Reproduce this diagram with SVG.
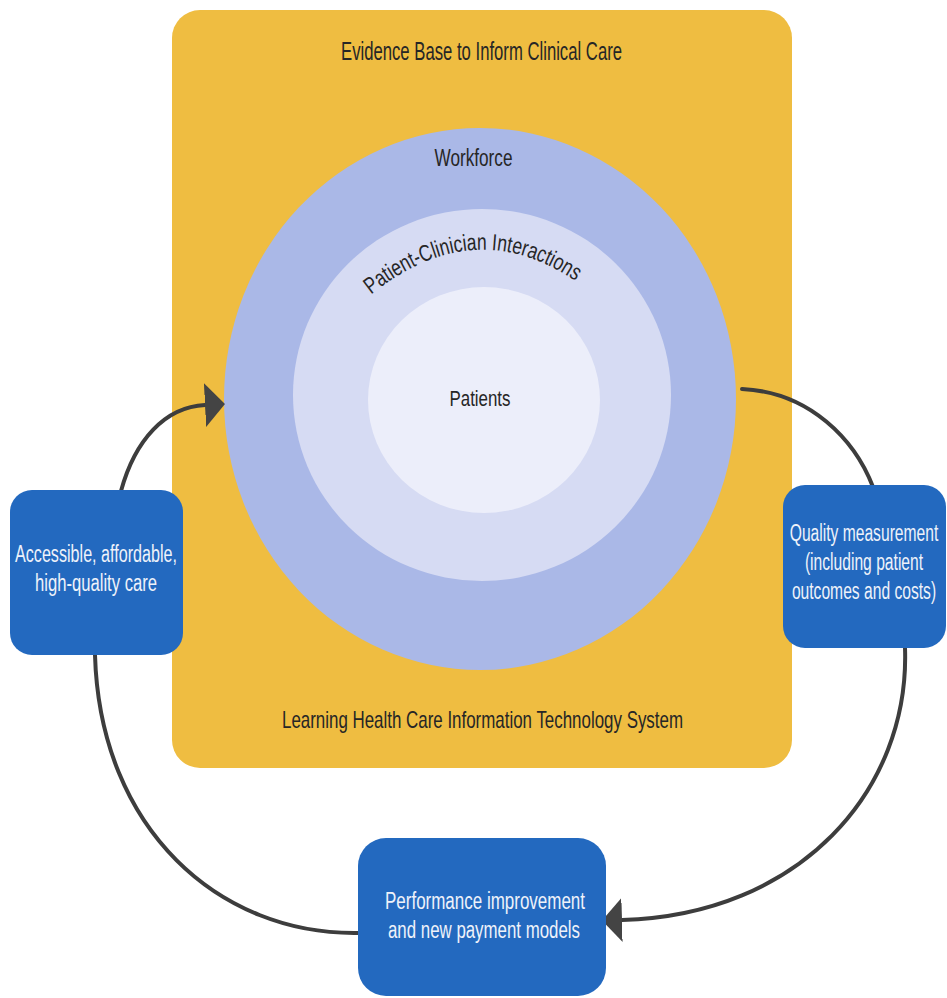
<svg xmlns="http://www.w3.org/2000/svg" xmlns:xlink="http://www.w3.org/1999/xlink" width="947" height="998" viewBox="0 0 947 998">
  <style>
    .lbl { font-family: "Liberation Sans", Arial, sans-serif; fill: #262626; }
    .box { fill: #2369bf; }
    .boxtxt { font-family: "Liberation Sans", Arial, sans-serif; fill: #eef2fa; font-size: 23px; text-anchor: middle; }
    .conn { fill: none; stroke: #3d3d3d; stroke-width: 4; stroke-linecap: round; }
  </style>
  <defs>
    <marker id="arrow" markerUnits="userSpaceOnUse" viewBox="0 0 20 44" refX="0" refY="22" markerWidth="20" markerHeight="44" orient="auto">
      <path d="M0,0 L20,22 L0,44 Z" fill="#444444"/>
    </marker>
    <path id="pciArc" d="M362,302 Q475,205 585,288"/>
  </defs>
  <rect width="947" height="998" fill="#ffffff"/>

  <g id="it-system">
    <rect x="172" y="10" width="620" height="758" rx="28" ry="28" fill="#efbd41"/>
    <text class="lbl" x="481.5" y="60" font-size="25" text-anchor="middle" textLength="281" lengthAdjust="spacingAndGlyphs">Evidence Base to Inform Clinical Care</text>
    <text class="lbl" x="482.5" y="728" font-size="24" text-anchor="middle" textLength="401" lengthAdjust="spacingAndGlyphs">Learning Health Care Information Technology System</text>
  </g>

  <g id="workforce">
    <ellipse cx="480" cy="399" rx="256" ry="271" fill="#aab8e7"/>
    <text class="lbl" x="473.5" y="166" font-size="23" text-anchor="middle" textLength="78" lengthAdjust="spacingAndGlyphs">Workforce</text>
  </g>

  <g id="interactions">
    <ellipse cx="482" cy="395" rx="189" ry="186" fill="#d6dbf3"/>
    <text class="lbl" font-size="23"><textPath xlink:href="#pciArc" href="#pciArc" startOffset="50%" text-anchor="middle" textLength="222" lengthAdjust="spacingAndGlyphs">Patient-Clinician Interactions</textPath></text>
  </g>

  <g id="patients">
    <ellipse cx="484" cy="400" rx="116" ry="113" fill="#eceefa"/>
    <text class="lbl" x="480" y="406" font-size="22" text-anchor="middle" textLength="61" lengthAdjust="spacingAndGlyphs">Patients</text>
  </g>

  <g id="connectors">
    <path class="conn" d="M121,491 C135,440 165,407 205,405" marker-end="url(#arrow)"/>
    <path class="conn" d="M742,389 C810,392 855,440 873,487"/>
    <path class="conn" d="M905,648 C910,790 800,915 622,920" marker-end="url(#arrow)"/>
    <path class="conn" d="M95,655 C100,830 220,935 358,933"/>
  </g>

  <g id="care">
    <rect class="box" x="10" y="490" width="173" height="165" rx="22" ry="22"/>
    <text class="boxtxt" x="96" y="562" textLength="162" lengthAdjust="spacingAndGlyphs">Accessible, affordable,</text>
    <text class="boxtxt" x="96" y="591" textLength="122" lengthAdjust="spacingAndGlyphs">high-quality care</text>
  </g>

  <g id="quality">
    <rect class="box" x="783" y="485" width="163" height="163" rx="22" ry="22"/>
    <g transform="translate(864,0) scale(0.68,1)">
      <text class="boxtxt" x="0" y="541">Quality measurement</text>
      <text class="boxtxt" x="0" y="570">(including patient</text>
      <text class="boxtxt" x="0" y="599">outcomes and costs)</text>
    </g>
  </g>

  <g id="performance">
    <rect class="box" x="358" y="838" width="248" height="158" rx="28" ry="28"/>
    <text class="boxtxt" x="485" y="909" textLength="200" lengthAdjust="spacingAndGlyphs">Performance improvement</text>
    <text class="boxtxt" x="484" y="938" textLength="192" lengthAdjust="spacingAndGlyphs">and new payment models</text>
  </g>
</svg>
